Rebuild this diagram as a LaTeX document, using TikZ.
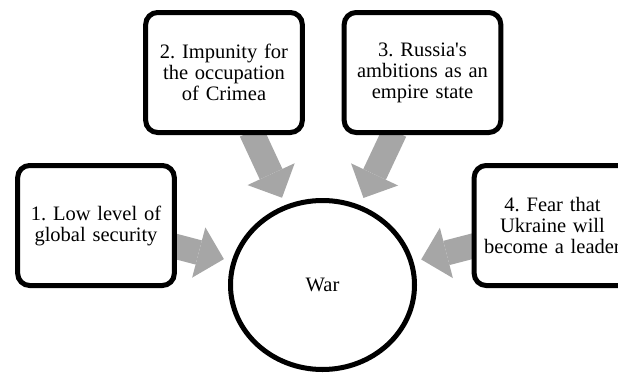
\documentclass[tikz,border=0pt]{standalone}
\usepackage{fontspec}
\setmainfont{Liberation Serif}
\usetikzlibrary{shapes.geometric,arrows.meta,positioning,backgrounds}
\frenchspacing

\begin{document}
\begin{tikzpicture}[
    node distance=227pt,
    cause/.style={rectangle, draw, fill=white, line width=5pt, rounded corners=12pt, text width=150pt, align=center, minimum width=156pt, minimum height=120pt, font=\fontsize{20.5pt}{21pt}\selectfont},
    result/.style={ellipse, draw, fill=white, line width=5pt, minimum width=184pt, minimum height=169pt, font=\fontsize{20.5pt}{21pt}\selectfont},
    bigarrow/.style={draw=black!35, line width=25pt, -{Triangle[length=26pt,width=52pt,line width=0pt]}, shorten >=8pt, shorten <=-4pt}
]
\useasboundingbox (0,0) rectangle (618pt,-372pt);
\clip (0,0) rectangle (618pt,-372pt);

\node [result] (war) at (322.5pt,-285pt) {War};
\node [cause, left of=war, xshift=0.5pt, yshift=59.5pt] (security) {1. Low level of\\global security};
\node [cause, above of=war, node distance=212.5pt, xshift=-98.5pt] (crimea) {2. Impunity for\\the occupation\\of Crimea};
\node [cause, above of=war, node distance=212.5pt, xshift=100pt] (empire) {3. Russia\textquotesingle s\\ambitions as an\\empire state};
\node [cause, right of=war, xshift=3pt, yshift=59.5pt] (leader) {4. Fear that\\Ukraine will\\become a leader};

\begin{scope}[on background layer]
\draw [bigarrow] (security) -- (war);
\draw [bigarrow] (crimea) -- (war);
\draw [bigarrow] (empire) -- (war);
\draw [bigarrow] (leader) -- (war);
\end{scope}

\end{tikzpicture}
\end{document}
